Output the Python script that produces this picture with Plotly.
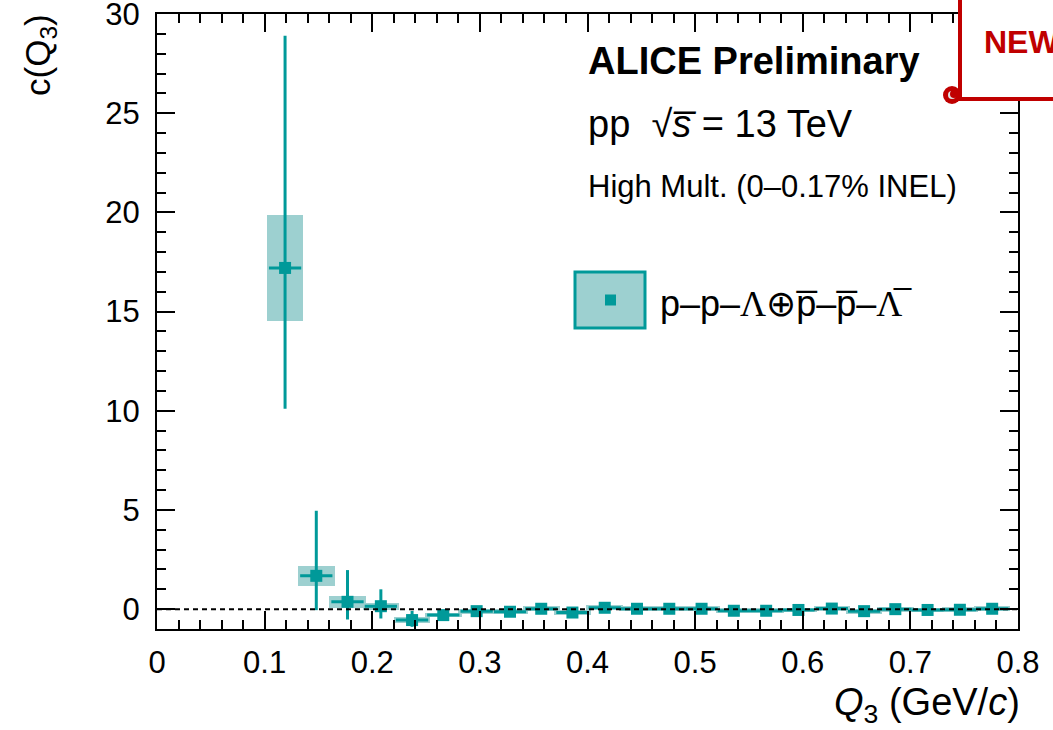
import plotly.graph_objects as go

# ---------------- data ----------------
q3 = [0.119, 0.148, 0.177, 0.208, 0.237, 0.266, 0.297, 0.328, 0.357, 0.386, 0.416,
      0.446, 0.476, 0.506, 0.536, 0.566, 0.596, 0.627, 0.657, 0.686, 0.716, 0.746, 0.776]
c_val = [17.2, 1.68, 0.37, 0.15, -0.55, -0.30, -0.10, -0.13, 0.02, -0.17, 0.07,
         0.02, 0.02, 0.02, -0.08, -0.08, -0.04, 0.03, -0.10, 0.00, -0.04, -0.03, 0.02]
stat_up = [11.7, 3.28, 1.60, 0.85, 0.46, 0.22, 0.15, 0.12, 0.10, 0.10, 0.10,
           0.08, 0.08, 0.08, 0.08, 0.08, 0.08, 0.08, 0.08, 0.08, 0.08, 0.08, 0.08]
stat_dn = [7.1, 1.73, 0.89, 0.62, 0.34, 0.22, 0.15, 0.12, 0.10, 0.10, 0.10,
           0.08, 0.08, 0.08, 0.08, 0.08, 0.08, 0.08, 0.08, 0.08, 0.08, 0.08, 0.08]
sys_err = [2.67, 0.50, 0.30, 0.18, 0.14, 0.12, 0.12, 0.12, 0.12, 0.12, 0.12,
           0.12, 0.12, 0.12, 0.12, 0.12, 0.12, 0.12, 0.12, 0.12, 0.12, 0.12, 0.12]
bin_half = [0.015] * len(q3)

x_ticks = [0, 0.1, 0.2, 0.3, 0.4, 0.5, 0.6, 0.7, 0.8]
y_ticks = [0, 5, 10, 15, 20, 25, 30]

# ---------------- style ----------------
TEAL = "rgb(0,153,153)"
BOX = "rgb(157,208,208)"
FONT = "Liberation Sans"
W, H = 1053, 730
L, R, T, B = 157, 1018, 14, 629


def px(x):
    return (x - L) / (R - L)


def py(y):
    return (B - y) / (B - T)


fig = go.Figure()

# systematic boxes
fig.add_trace(go.Bar(
    x=q3,
    y=[2 * s for s in sys_err],
    base=[v - s for v, s in zip(c_val, sys_err)],
    width=0.034,
    marker=dict(color=BOX, line=dict(width=0)),
    hoverinfo="skip",
    showlegend=False,
))

# data points with stat errors
fig.add_trace(go.Scatter(
    x=q3, y=c_val, mode="markers",
    marker=dict(symbol="square", size=12, color=TEAL),
    error_y=dict(type="data", symmetric=False, array=stat_up, arrayminus=stat_dn,
                 color=TEAL, thickness=3, width=0),
    error_x=dict(type="data", array=bin_half, color=TEAL, thickness=3, width=0),
    showlegend=False,
))

axis_common = dict(
    showline=True, linecolor="black", linewidth=2, mirror="allticks",
    ticks="inside", ticklen=18, tickwidth=2, tickcolor="black",
    showgrid=False, zeroline=False, ticklabeloverflow="allow", automargin=False,
    tickfont=dict(family=FONT, size=31, color="black"),
)

fig.update_xaxes(range=[0, 0.8], tickvals=x_ticks, ticktext=[f"{v:g}" for v in x_ticks],
                 minor=dict(dtick=0.02, ticklen=9, tickwidth=2, tickcolor="black", ticks="inside", showgrid=False),
                 ticklabelstandoff=5, **axis_common)
fig.update_yaxes(range=[-1, 30], tickvals=y_ticks, ticktext=[str(v) for v in y_ticks],
                 minor=dict(dtick=1, ticklen=9, tickwidth=2, tickcolor="black", ticks="inside", showgrid=False),
                 ticklabelstandoff=9, **axis_common)

shapes = []
# dashed zero line
shapes.append(dict(type="line", xref="paper", yref="y", x0=0, x1=1, y0=0, y1=0,
                   line=dict(color="black", width=2, dash="5px,4px"), layer="above"))
# legend box
shapes.append(dict(type="rect", xref="paper", yref="paper",
                   x0=px(575), x1=px(645), y0=py(328), y1=py(272),
                   fillcolor=BOX, line=dict(color=TEAL, width=3)))
shapes.append(dict(type="rect", xref="paper", yref="paper",
                   x0=px(605), x1=px(616), y0=py(305.5), y1=py(294.5),
                   fillcolor=TEAL, line=dict(width=0)))
# NEW badge
shapes.append(dict(type="rect", xref="paper", yref="paper",
                   x0=px(960), x1=px(1070), y0=py(99), y1=py(-10),
                   fillcolor="white", line=dict(color="rgb(192,0,0)", width=4)))
shapes.append(dict(type="circle", xref="paper", yref="paper",
                   x0=px(943), x1=px(961), y0=py(104), y1=py(86),
                   fillcolor="rgb(192,0,0)", line=dict(width=0)))
shapes.append(dict(type="circle", xref="paper", yref="paper",
                   x0=px(948), x1=px(956), y0=py(99), y1=py(91),
                   fillcolor="rgb(225,225,225)", line=dict(width=0)))
shapes.append(dict(type="circle", xref="paper", yref="paper",
                   x0=px(950), x1=px(958), y0=py(98), y1=py(90),
                   fillcolor="rgb(192,0,0)", line=dict(width=0)))

annotations = [
    dict(text="<b>ALICE Preliminary</b>", x=px(586), y=py(61), xanchor="left", yanchor="middle",
         font=dict(family=FONT, size=38, color="black")),
    dict(text="pp  \u221a<i>s\u0305</i> = 13 TeV", x=px(586), y=py(124), xanchor="left", yanchor="middle",
         font=dict(family=FONT, size=38, color="black")),
    dict(text="High Mult. (0\u20130.17% INEL)", x=px(586), y=py(187), xanchor="left", yanchor="middle",
         font=dict(family=FONT, size=31, color="black")),
    dict(text="p\u2013p\u2013<span style='font-family:Liberation Serif'>\u039b</span>\u2295p\u0305\u2013p\u0305\u2013"
              "<span style='font-family:Liberation Serif'>\u039b\u0305</span>",
         x=px(658), y=py(303), xanchor="left", yanchor="middle",
         font=dict(family=FONT, size=36, color="black")),
    dict(text="<b>NEW</b>", x=px(982), y=py(42), xanchor="left", yanchor="middle",
         font=dict(family=FONT, size=32, color="rgb(192,0,0)")),
    dict(text="c(Q<sub>3</sub>)", textangle=-90, x=px(40), y=py(12),
         xanchor="center", yanchor="top",
         font=dict(family=FONT, size=35, color="black")),
    dict(text="<i>Q</i><sub>3</sub> (GeV/<i>c</i>)", x=px(1022), y=py(705),
         xanchor="right", yanchor="middle",
         font=dict(family=FONT, size=38, color="black")),
]
for a in annotations:
    a.update(xref="paper", yref="paper", showarrow=False)

fig.update_layout(
    width=W, height=H,
    margin=dict(l=L, r=W - R, t=T, b=H - B, autoexpand=False),
    plot_bgcolor="white", paper_bgcolor="white",
    shapes=shapes, annotations=annotations,
    showlegend=False, bargap=0,
)

fig.write_html("out.html")
